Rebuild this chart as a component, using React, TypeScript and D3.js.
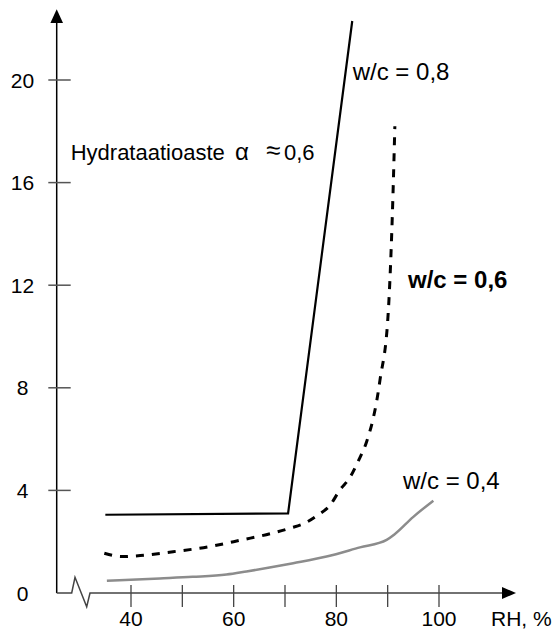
import React from "react";
import * as d3 from "d3";

// Relative humidity (%) and measured values for each water/cement ratio
const rh08 = [35, 70.6, 83.1];
const val08 = [3.05, 3.1, 22.3];

const rh06 = [34.8, 38.2, 41.8, 48.2, 55.1, 61.6, 67.7, 71.0, 73.9, 76.4, 78.8, 80.7, 82.7, 84.2, 85.9, 87.1, 87.9, 88.5, 90.1, 91.0, 91.4];
const val06 = [1.55, 1.42, 1.46, 1.61, 1.8, 2.07, 2.34, 2.53, 2.73, 3.04, 3.43, 4.02, 4.52, 5.11, 5.9, 6.74, 7.52, 8.3, 10.9, 15.3, 18.2];

const rh04 = [35.3, 45.6, 52.0, 58.6, 62.5, 67.0, 71.6, 78.1, 84.6, 89.8, 91.3, 95.0, 98.9];
const val04 = [0.48, 0.57, 0.63, 0.72, 0.84, 0.99, 1.16, 1.42, 1.78, 2.07, 2.28, 2.97, 3.6];

const xTicks = [40, 50, 60, 70, 80, 90, 100];
const xTickLabels = ["40", "", "60", "", "80", "", "100"];
const yTicks = [0, 4, 8, 12, 16, 20];

const FONT = "'Liberation Sans', Arial, Helvetica, sans-serif";

export default function App() {
  const W = 556;
  const H = 629;
  const x = d3.scaleLinear().domain([40, 100]).range([131, 439]);
  const y = d3.scaleLinear().domain([0, 20]).range([593, 80]);

  const axisX = 56.7; // vertical axis position (left of the broken RH scale)
  const y0 = y(0);

  const pts = (xs: number[], ys: number[]) => xs.map((v, i) => [v, ys[i]] as [number, number]);

  const straight = d3
    .line<[number, number]>()
    .x((d) => x(d[0]))
    .y((d) => y(d[1]));
  const smooth = d3
    .line<[number, number]>()
    .x((d) => x(d[0]))
    .y((d) => y(d[1]))
    .curve(d3.curveMonotoneX);

  // horizontal axis with a break symbol near the origin
  const xAxisPath = [
    `M${axisX},${y0}`,
    `L71.7,${y0}`,
    `L75,${y0 - 15.7}`,
    `L86.7,${y0 + 13.7}`,
    `L90,${y0}`,
    `L503,${y0}`,
  ].join(" ");

  return (
    <svg
      width={W}
      height={H}
      viewBox={`0 0 ${W} ${H}`}
      style={{ position: "absolute", left: 0, top: 0, background: "#fff" }}
      fontFamily={FONT}
    >
      <rect width={W} height={H} fill="#fff" />

      {/* vertical axis */}
      <line x1={axisX} x2={axisX} y1={22} y2={y0} stroke="#000" strokeWidth={1.5} />
      <path d={`M${axisX},9.3 L${axisX - 6.3},23 L${axisX + 6.3},23 Z`} fill="#000" />
      {yTicks.map((t) => (
        <g key={t}>
          {t > 0 && (
            <line x1={48.3} x2={70.7} y1={y(t)} y2={y(t)} stroke="#555" strokeWidth={1.5} />
          )}
          <text x={22.5} y={y(t)} dy="0.36em" textAnchor="middle" fontSize={21}>
            {t}
          </text>
        </g>
      ))}

      {/* horizontal axis */}
      <path d={xAxisPath} fill="none" stroke="#444" strokeWidth={1.5} strokeLinejoin="miter" />
      <path d={`M516,${y0} L502,${y0 - 6} L502,${y0 + 6} Z`} fill="#000" />
      {xTicks.map((t, i) => (
        <g key={t}>
          <line x1={x(t)} x2={x(t)} y1={585} y2={607} stroke="#444" strokeWidth={1.3} />
          {xTickLabels[i] && (
            <text x={x(t)} y={626} textAnchor="middle" fontSize={21}>
              {xTickLabels[i]}
            </text>
          )}
        </g>
      ))}
      <text x={491} y={626} fontSize={21}>
        RH, %
      </text>

      {/* series */}
      <path d={smooth(pts(rh04, val04)) ?? ""} fill="none" stroke="#8c8c8c" strokeWidth={2.5} />
      <path
        d={smooth(pts(rh06, val06)) ?? ""}
        fill="none"
        stroke="#000"
        strokeWidth={3}
        strokeDasharray="8,8"
      />
      <path d={straight(pts(rh08, val08)) ?? ""} fill="none" stroke="#000" strokeWidth={2.2} />

      {/* annotations */}
      <text x={352.7} y={80} fontSize={24}>
        w/c = 0,8
      </text>
      <text x={408} y={288} fontSize={24} fontWeight="bold">
        w/c = 0,6
      </text>
      <text x={403} y={489} fontSize={24}>
        w/c = 0,4
      </text>
      <text y={160} fontSize={22}>
        <tspan x={70.7}>Hydrataatioaste</tspan>
        <tspan x={235} fontSize={24}>α</tspan>
        <tspan x={266} dy={-1} fontSize={26}>≈</tspan>
        <tspan x={284} dy={1}>0,6</tspan>
      </text>
    </svg>
  );
}
